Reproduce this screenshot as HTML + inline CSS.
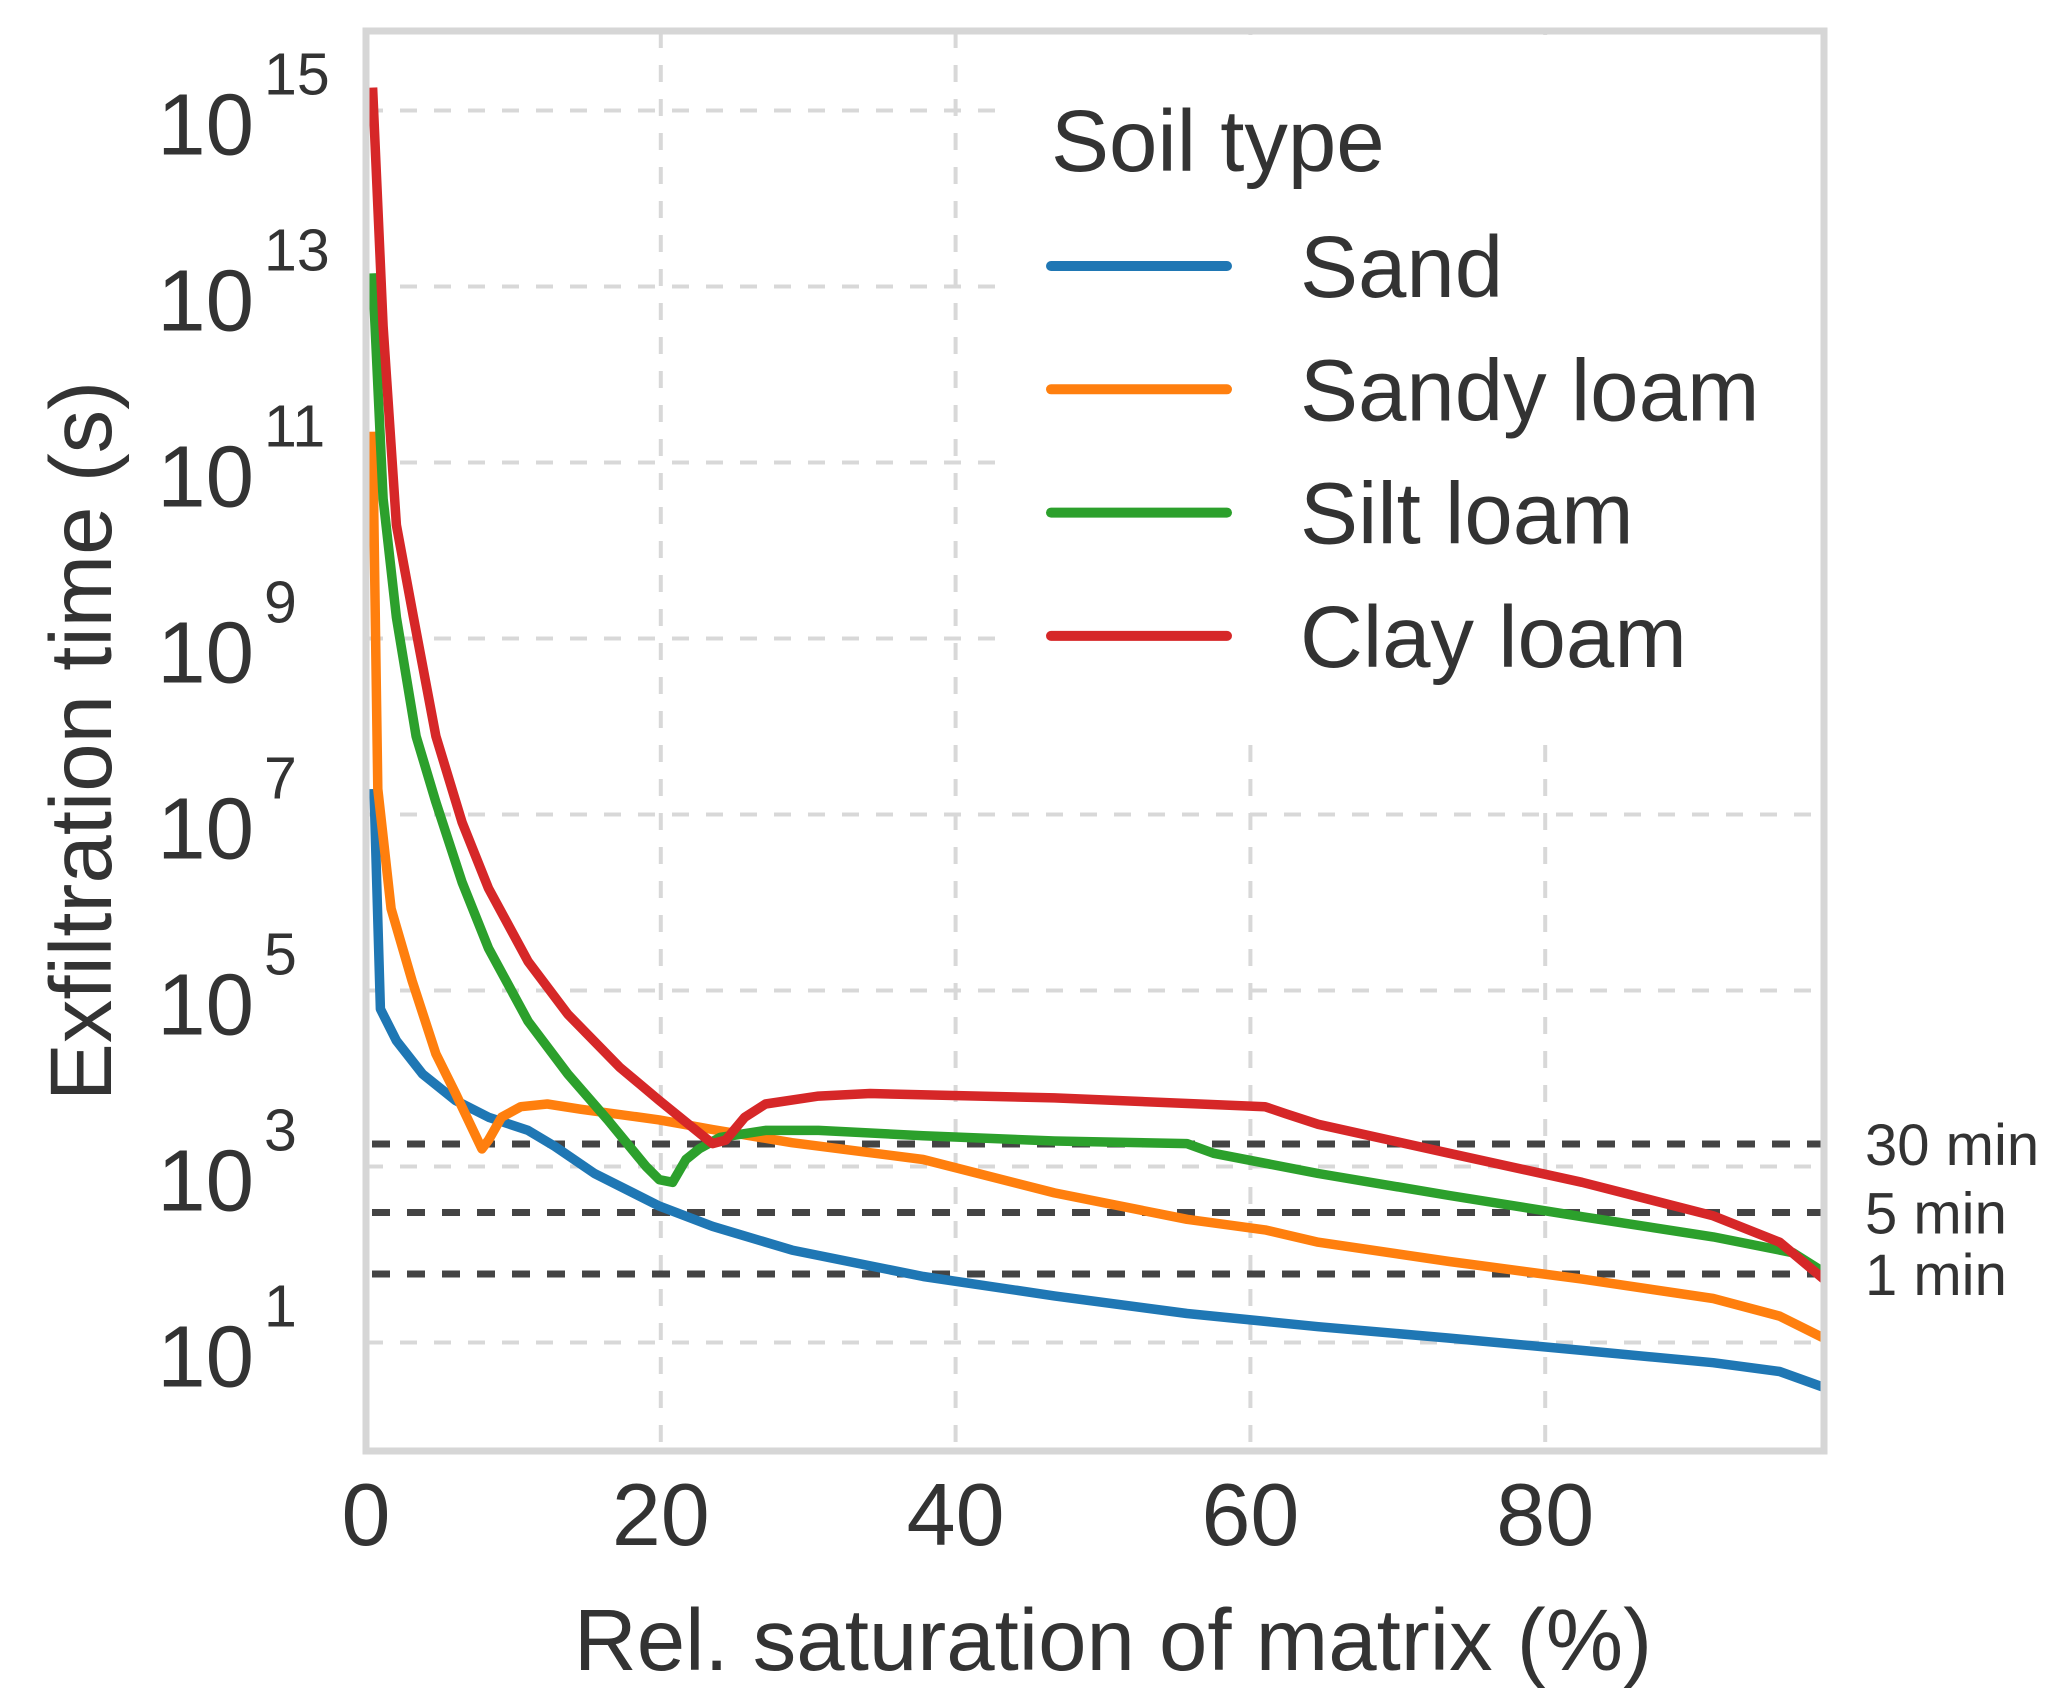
<!DOCTYPE html>
<html><head><meta charset="utf-8"><style>
html,body{margin:0;padding:0;background:#fff;}
svg{display:block;font-family:"Liberation Sans",Arial,sans-serif;}
</style></head><body>
<svg id="chart" width="2067" height="1707" viewBox="0 0 2067 1707">
<g id="grid"></g>
<g id="refs"></g>
<g id="series"></g>
<rect x="1005" y="35" width="815" height="705" fill="#fff"/>
<rect x="366" y="31" width="1458" height="1420" fill="none" stroke="#d6d6d6" stroke-width="7"/>
<g id="ticks" fill="#333"></g>
<text x="1113" y="1670" font-size="87" fill="#333" text-anchor="middle">Rel. saturation of matrix (%)</text>
<text transform="translate(111,741) rotate(-90)" font-size="87" fill="#333" text-anchor="middle">Exfiltration time (s)</text>
<g id="legend">
<text x="1051" y="171" font-size="87" fill="#333">Soil type</text>
</g>
</svg>
<script>
const categories = ["Sand","Sandy loam","Silt loam","Clay loam"];
const colors = ["#1f77b4","#ff7f0e","#2ca02c","#d62728"];
const xTicks = [0,20,40,60,80];
const yTickExps = [1,3,5,7,9,11,13,15];
const refValues = [1800,300,60];
const refLabels = ["30 min","5 min","1 min"];
const sandX = [0.54,0.98,2.06,3.84,6.08,8.31,11.0,12.8,15.5,19.9,23.5,28.9,37.8,46.7,55.7,64.6,73.5,82.5,91.4,95.9,98.9];
const sandY = [7.29,4.79,4.43,4.05,3.75,3.56,3.41,3.23,2.92,2.55,2.32,2.05,1.75,1.53,1.33,1.18,1.05,0.91,0.77,0.67,0.49];
const sandyX = [0.45,0.8,1.7,3.13,4.74,6.08,7.86,8.31,9.2,10.5,12.3,14.6,19.9,23.5,28.9,37.8,46.7,55.7,61.0,64.6,73.5,82.5,91.4,95.9,98.9];
const sandyY = [11.35,7.29,5.93,5.11,4.28,3.83,3.20,3.30,3.56,3.68,3.71,3.65,3.53,3.42,3.27,3.08,2.70,2.40,2.28,2.14,1.92,1.72,1.50,1.30,1.05];
const siltX = [0.45,1.16,2.06,3.4,4.74,6.52,8.31,11.0,13.7,16.4,19.0,19.9,20.8,21.7,22.6,24.0,27.1,30.7,37.8,46.7,55.7,57.5,64.6,73.5,82.5,91.4,96.8,98.9];
const siltY = [13.15,10.59,9.24,7.89,7.14,6.23,5.48,4.65,4.05,3.53,3.00,2.85,2.82,3.08,3.20,3.33,3.41,3.41,3.35,3.29,3.26,3.15,2.92,2.67,2.43,2.20,2.02,1.80];
const clayX = [0.45,1.16,2.06,3.22,4.74,6.52,8.31,11.0,13.7,17.2,19.9,23.5,24.4,25.7,27.1,30.7,34.2,46.7,61.0,62.4,64.6,73.5,82.5,91.4,95.9,98.9];
const clayY = [15.26,12.55,10.29,9.24,7.89,6.91,6.16,5.33,4.73,4.13,3.75,3.26,3.30,3.56,3.71,3.80,3.83,3.78,3.68,3.60,3.48,3.15,2.82,2.44,2.14,1.72];
const seriesX = [sandX,sandyX,siltX,clayX];
const seriesY = [sandY,sandyY,siltY,clayY];

const NS="http://www.w3.org/2000/svg";
const X = v => 366 + v*14.74;
const Y = l => 1342.5 - (l-1)*88.0;
function mk(tag, attrs, parent){const e=document.createElementNS(NS,tag);for(const k in attrs)e.setAttribute(k,attrs[k]);parent.appendChild(e);return e;}
const grid=document.getElementById('grid'), refs=document.getElementById('refs'), ser=document.getElementById('series'), ticks=document.getElementById('ticks'), leg=document.getElementById('legend');

xTicks.forEach(t=>{
  const l=mk('line',{x1:X(t),x2:X(t),y1:31,y2:1451,stroke:'#d8d8d8','stroke-width':4,'stroke-dasharray':'17,17'},grid);
  
  
  const tx=mk('text',{x:X(t),y:1545,'font-size':88,'text-anchor':'middle'},ticks);
  tx.textContent=t;
  
  
});
yTickExps.forEach(e=>{
  const y=Y(e);
  const l=mk('line',{x1:366,x2:1824,y1:y,y2:y,stroke:'#d8d8d8','stroke-width':4,'stroke-dasharray':'17,17'},grid);
  
  
  const tx=mk('text',{x:254,y:y+44,'font-size':87,'text-anchor':'end'},ticks);
  tx.textContent='10';
  
  
  const sx=mk('text',{x:264,y:y-16,'font-size':59},ticks);
  sx.textContent=e;
  
  
});
refValues.forEach((v,i)=>{
  const y=Y(Math.log10(v));
  const l=mk('line',{x1:372,x2:1824,y1:y,y2:y,stroke:'#444','stroke-width':7,'stroke-dasharray':'18,17'},refs);
  
  
  const tx=mk('text',{x:1865,y:y+21,'font-size':58,fill:'#333'},refs);
  tx.textContent=refLabels[i];
  
  
});
seriesX.forEach((xs,i)=>{
  const d=xs.map((x,j)=>(j?'L':'M')+X(x).toFixed(1)+','+Y(seriesY[i][j]).toFixed(1)).join(' ');
  const p=mk('path',{d:d,fill:'none',stroke:colors[i],'stroke-width':9.5,'stroke-linejoin':'round'},ser);
  
  
});
categories.forEach((c,i)=>{
  const y=266+i*123.3;
  const l=mk('line',{x1:1051,x2:1227,y1:y,y2:y,stroke:colors[i],'stroke-width':10,'stroke-linecap':'round'},leg);
  
  
  const tx=mk('text',{x:1300,y:y+31,'font-size':87,fill:'#333'},leg);
  tx.textContent=c;
  
  
});
</script>
</body></html>
